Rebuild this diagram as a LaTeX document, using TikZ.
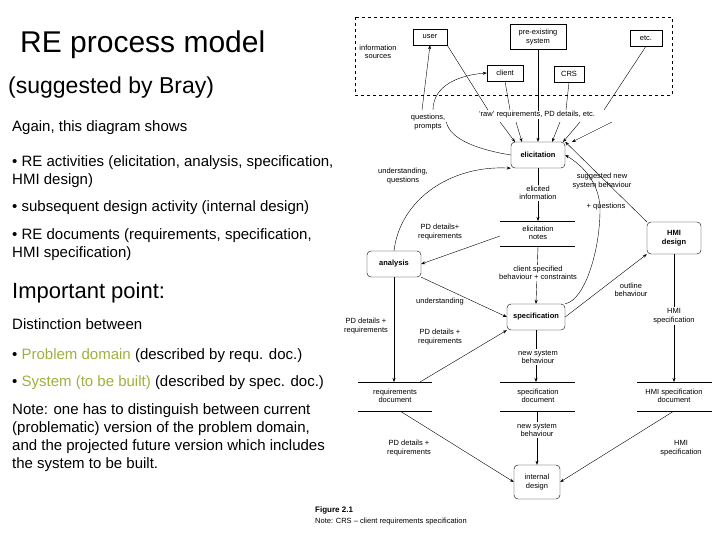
\documentclass[tikz,border=0pt]{standalone}
\usepackage{fontspec}
\setmainfont{Liberation Sans}
\usetikzlibrary{arrows.meta}
\definecolor{olive}{HTML}{9DB23C}
\begin{document}
\begin{tikzpicture}[x=1pt,y=-1pt,
 lt/.style={anchor=west,font=\fontsize{15}{17}\selectfont,inner sep=0},
 dt/.style={font=\fontsize{7.5}{8.5}\selectfont,align=center,inner sep=1pt},
 lab/.style={dt,fill=white},
 src/.style={draw,dt,minimum height=16pt,inner sep=2pt},
 proc/.style={draw,rounded corners=4pt,dt,font=\fontsize{7.5}{8.5}\bfseries\selectfont,minimum height=26pt},
 ar/.style={-{Stealth[length=4pt,width=3pt]},thin},
 ln/.style={thin}]
\useasboundingbox (0,0) rectangle (720,540);
% left text
\node[lt,font=\fontsize{30}{32}\selectfont] (t1) at (20,45) {RE process model};
\node[lt,font=\fontsize{23}{25}\selectfont] (t2) at (8,88) {(suggested by Bray)};
\node[lt] (l1) at (12,128) {Again, this diagram shows};
\node[lt] (l2) at (12,163) {• RE activities (elicitation, analysis, specification,};
\node[lt] (l3) at (12,181) {HMI design)};
\node[lt] (l4) at (12,208) {• subsequent design activity (internal design)};
\node[lt] (l5) at (12,236) {• RE documents (requirements, specification,};
\node[lt] (l6) at (12,254) {HMI specification)};
\node[lt,font=\fontsize{22}{24}\selectfont] (l7) at (12,293) {Important point:};
\node[lt] (l8) at (12,324) {Distinction between};
\node[lt] (l9) at (12,356) {• \textcolor{olive}{Problem domain} (described by requ. doc.)};
\node[lt] (l10) at (12,383) {• \textcolor{olive}{System (to be built)} (described by spec. doc.)};
\node[lt] (l11) at (12,411) {Note: one has to distinguish between current};
\node[lt] (l12) at (12,429) {(problematic) version of the problem domain,};
\node[lt] (l13) at (12,447) {and the projected future version which includes};
\node[lt] (l14) at (12,465) {the system to be built.};
% sources
\draw[dashed,thin] (355,17) rectangle (672,95);
\node[src,minimum width=34pt] (user) at (430,37) {user};
\node[src,minimum width=56pt,minimum height=25pt] (pre) at (538,37) {pre-existing\\system};
\node[src,minimum width=32pt] (etc) at (646,38) {etc.};
\node[src,minimum width=36pt] (client) at (505,73) {client};
\node[src,minimum width=30pt] (crs) at (569,74) {CRS};
\node[dt] (info) at (378,52) {information\\sources};
% processes
\node[proc,minimum width=54pt] (eli) at (538,155) {elicitation};
\node[proc,minimum width=54pt] (ana) at (394,264) {analysis};
\node[proc,minimum width=58pt] (spec) at (536,317) {specification};
\node[proc,minimum width=54pt,minimum height=32pt] (hmi) at (674,238) {HMI\\design};
\node[proc,minimum width=46pt,minimum height=34pt,font=\fontsize{7.5}{8.5}\selectfont] (int) at (537,482) {internal\\design};
% stores
\node[dt] (notes) at (538,233) {elicitation\\notes};
\draw[ln] (500,221) -- (575,221) (500,246) -- (575,246);
\node[dt] (rdoc) at (395,396) {requirements\\document};
\draw[ln] (358,382) -- (432,382) (358,411) -- (432,411);
\node[dt] (sdoc) at (538,396) {specification\\document};
\draw[ln] (500,382) -- (575,382) (500,411) -- (575,411);
\node[dt] (hdoc) at (674,396) {HMI specification\\document};
\draw[ln] (637,382) -- (712,382) (637,411) -- (712,411);
% source connectors
\coordinate (r1) at (488,110); \coordinate (r2) at (510,110);
\coordinate (r3) at (566,110); \coordinate (r4) at (604,110);
\draw[ln] (user.south east) -- (r1);
\draw[ln] (client.south) -- (r2);
\draw[ln] (crs.south) -- (r3);
\draw[ln] (etc.south) -- (r4);
\draw[ar] (pre.south) -- (eli.north);
\draw[ar] (500,122) -- (515,142);
\draw[ar] (516,122) -- (522,142);
\draw[ar] (560,122) -- (552,142);
\draw[ar] (580,122) -- (563,142);
\draw[ar] (612,122) -- (572,142);
% main flow
\draw[ar] (ana.north) .. controls (400,200) and (450,165) .. (eli.south west);
\draw[ar] (eli.south) -- (538,221);
\draw[ar] (500,236) -- (ana.east);
\draw[ar] (538,246) -- (spec.north);
\draw[ar] (ana.south east) -- (spec.west);
\draw[ar] (spec.north east) .. controls (585,300) and (600,250) .. (600,210) .. controls (600,190) and (590,170) .. (eli.east);
\draw[ar] (hmi.north west) -- (eli.north east);
\draw[ar] (spec.east) -- (hmi.south west);
\draw[ar] (hmi.south) -- (674,382);
\draw[ar] (ana.south) -- (394,382);
\draw[ar] (420,382) -- (spec.south west);
\draw[ar] (spec.south) -- (536,382);
\draw[ar] (400,411) -- (int.west);
\draw[ar] (537,411) -- (int.north);
\draw[ar] (674,411) -- (int.east);
% labels
\node[lab] (qp) at (428,122) {questions,\\prompts};
\node[lab] (raw) at (537,115) {`raw' requirements, PD details, etc.};
\node[dt] (uq) at (403,176) {understanding,\\questions};
\node[lab] (ei) at (538,193) {elicited\\information};
\node[dt] (sn) at (602,181) {suggested new\\system behaviour};
\node[dt] (pq) at (606,207) {+ questions};
\node[dt] (pd1) at (440,232) {PD details+\\requirements};
\node[lab] (cs) at (538,273) {client specified\\behaviour + constraints};
\node[dt] (ob) at (631,290) {outline\\behaviour};
\node[dt] (und) at (440,302) {understanding};
\node[lab] (hs1) at (674,316) {HMI\\specification};
\node[dt] (pd2) at (366,326) {PD details +\\requirements};
\node[dt] (pd3) at (440,337) {PD details +\\requirements};
\node[lab] (nsb1) at (538,357) {new system\\behaviour};
\node[lab] (nsb2) at (537,430) {new system\\behaviour};
\node[dt] (pd4) at (409,448) {PD details +\\requirements};
\node[dt] (hs2) at (681,448) {HMI\\specification};
\node[anchor=west,inner sep=0,font=\fontsize{8}{9}\bfseries\selectfont] (fig) at (315,510) {Figure 2.1};
\node[anchor=west,inner sep=0,font=\fontsize{7.5}{9}\selectfont] (note) at (315,522) {Note: CRS -- client requirements specification};
% questions
\coordinate (q1) at (422,110);
\coordinate (q2) at (433,110);
\draw[ln] (eli.west) .. controls (480,150) and (450,140) .. (qp.east);
\draw[ar] (q1) -- (user.south);
\draw[ar] (q2) .. controls (433,85) and (460,75) .. (client.west);
\end{tikzpicture}
\end{document}
